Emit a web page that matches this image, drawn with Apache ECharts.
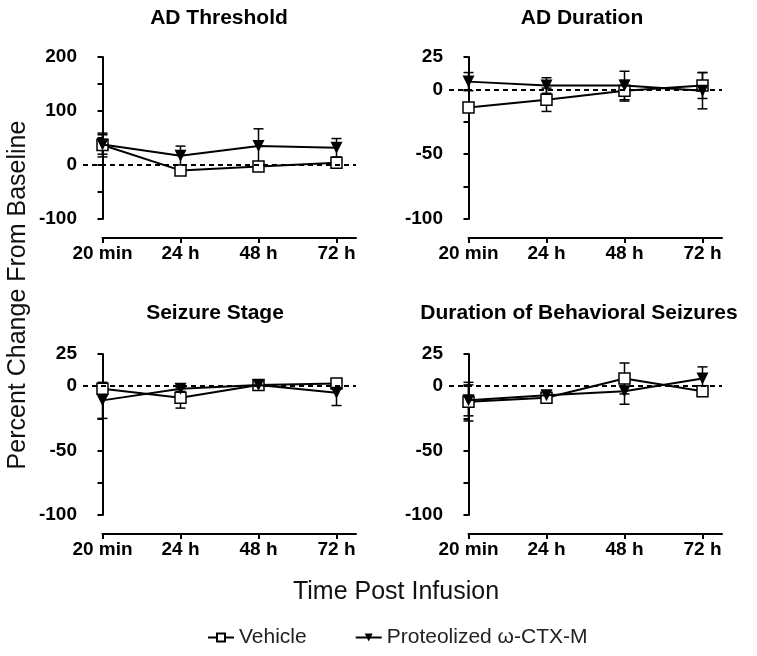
<!DOCTYPE html>
<html>
<head>
<meta charset="utf-8">
<script src="https://cdn.jsdelivr.net/npm/echarts@6/dist/echarts.min.js"></script>
<style>html,body{margin:0;padding:0;background:#fff;}#c{width:757px;height:656px;}</style>
</head>
<body>
<div id="c"></div>
<script>
// ---- data ----
const categories = ['20 min', '24 h', '48 h', '72 h'];
const panelTitles = ['AD Threshold', 'AD Duration', 'Seizure Stage', 'Duration of Behavioral Seizures'];
const seriesNames = ['Vehicle', 'Proteolized \u03c9-CTX-M'];

const vehicleADThreshold = [37, -10, -3, 4];
const vehicleADThresholdErr = [22, 4, 4, 3];
const ctxADThreshold = [38, 17, 35, 32];
const ctxADThresholdErr = [18, 18, 32, 17];

const vehicleADDuration = [-14, -8, -1, 3];
const vehicleADDurationErr = [3, 9, 8, 10];
const ctxADDuration = [6, 3, 3, -1];
const ctxADDurationErr = [7, 6, 11, 14];

const vehicleSeizureStage = [-2, -9, 1, 2];
const vehicleSeizureStageErr = [3, 8, 2, 2];
const ctxSeizureStage = [-11, -2, 1, -5];
const ctxSeizureStageErr = [14, 2, 2, 10];

const vehicleBehavioral = [-12, -9, 6, -4];
const vehicleBehavioralErr = [15, 2, 12, 3];
const ctxBehavioral = [-11, -7, -4, 6];
const ctxBehavioralErr = [12, 2, 10, 9];

const yLabelsADThreshold = [200, 100, 0, -100];
const yLabelsOther = [25, 0, -50, -100];

// ---- layout ----
const FONT = "'Liberation Sans', Arial, Helvetica, sans-serif";
const panels = [
  { title: panelTitles[0], veh: vehicleADThreshold, vehErr: vehicleADThresholdErr, ctx: ctxADThreshold, ctxErr: ctxADThresholdErr,
    yMin: -100, yMax: 200, yInt: 50, labels: yLabelsADThreshold, left: 83, top: 57, height: 162, titleX: 219, titleY: 18 },
  { title: panelTitles[1], veh: vehicleADDuration, vehErr: vehicleADDurationErr, ctx: ctxADDuration, ctxErr: ctxADDurationErr,
    yMin: -100, yMax: 25, yInt: 25, labels: yLabelsOther, left: 449, top: 57, height: 162, titleX: 582, titleY: 18 },
  { title: panelTitles[2], veh: vehicleSeizureStage, vehErr: vehicleSeizureStageErr, ctx: ctxSeizureStage, ctxErr: ctxSeizureStageErr,
    yMin: -100, yMax: 25, yInt: 25, labels: yLabelsOther, left: 83, top: 354, height: 161, titleX: 215, titleY: 313 },
  { title: panelTitles[3], veh: vehicleBehavioral, vehErr: vehicleBehavioralErr, ctx: ctxBehavioral, ctxErr: ctxBehavioralErr,
    yMin: -100, yMax: 25, yInt: 25, labels: yLabelsOther, left: 449, top: 354, height: 161, titleX: 579, titleY: 313 }
];
const PAD = 19.5;      // distance from y axis to first category
const WIDTH = 273;     // y axis to end of x axis

const grids = [], xAxes = [], yAxes = [], series = [], graphics = [];

function errorBarSeries(name, gi, vals, errs, z) {
  return {
    type: 'custom', name: name, xAxisIndex: gi, yAxisIndex: gi, z: z, silent: true,
    data: vals.map((v, i) => [i, v - errs[i], v + errs[i]]),
    renderItem: function (params, api) {
      const lo = api.coord([api.value(0), api.value(1)]);
      const hi = api.coord([api.value(0), api.value(2)]);
      const w = 5;
      const st = { stroke: '#000', lineWidth: 1.5 };
      return { type: 'group', children: [
        { type: 'line', shape: { x1: lo[0], y1: lo[1], x2: hi[0], y2: hi[1] }, style: st },
        { type: 'line', shape: { x1: lo[0] - w, y1: lo[1], x2: lo[0] + w, y2: lo[1] }, style: st },
        { type: 'line', shape: { x1: hi[0] - w, y1: hi[1], x2: hi[0] + w, y2: hi[1] }, style: st }
      ]};
    }
  };
}

panels.forEach((p, k) => {
  const gA = grids.length;
  grids.push({ left: p.left, top: p.top, width: WIDTH, height: p.height, containLabel: false });
  xAxes.push({ gridIndex: gA, type: 'value', min: -PAD / 78, max: 3.25, show: false });
  yAxes.push({
    gridIndex: gA, type: 'value', min: p.yMin, max: p.yMax, interval: p.yInt,
    axisLine: { show: true, lineStyle: { color: '#000', width: 2 } },
    axisTick: { show: true, length: 5, lineStyle: { color: '#000', width: 2 } },
    splitLine: { show: false },
    axisLabel: { margin: 6, color: '#000', fontFamily: FONT, fontWeight: 'bold', fontSize: 19,
      formatter: v => p.labels.indexOf(v) >= 0 ? String(v) : '' }
  });
  // x-axis grid (offset, GraphPad style)
  const gB = grids.length;
  grids.push({ left: p.left + PAD, top: p.top, width: WIDTH - PAD, height: p.height, containLabel: false });
  xAxes.push({
    gridIndex: gB, type: 'value', min: 0, max: 3.25, interval: 1, offset: 19,
    axisLine: { show: true, onZero: false, lineStyle: { color: '#000', width: 2 } },
    axisTick: { show: true, length: 5, lineStyle: { color: '#000', width: 2 } },
    splitLine: { show: false },
    axisLabel: { margin: 6, color: '#000', fontFamily: FONT, fontWeight: 'bold', fontSize: 19, showMaxLabel: false,
      formatter: v => (Number.isInteger(v) && categories[v] !== undefined) ? categories[v] : '' }
  });
  yAxes.push({ gridIndex: gB, type: 'value', min: p.yMin, max: p.yMax, show: false });

  series.push(errorBarSeries(seriesNames[0] + ' err', gA, p.veh, p.vehErr, 2));
  series.push(errorBarSeries(seriesNames[1] + ' err', gA, p.ctx, p.ctxErr, 2));
  series.push({
    type: 'line', name: seriesNames[0], xAxisIndex: gA, yAxisIndex: gA, z: 3,
    data: p.veh.map((v, i) => [i, v]),
    symbol: 'rect', symbolSize: 11,
    lineStyle: { color: '#000', width: 2 },
    itemStyle: { color: '#fff', borderColor: '#000', borderWidth: 1.5 },
    markLine: { silent: true, symbol: 'none', label: { show: false },
      lineStyle: { color: '#000', width: 2, type: [5, 4] },
      data: [{ yAxis: 0 }] }
  });
  series.push({
    type: 'line', name: seriesNames[1], xAxisIndex: gA, yAxisIndex: gA, z: 4,
    data: p.ctx.map((v, i) => [i, v]),
    symbol: 'triangle', symbolRotate: 180, symbolSize: 12,
    lineStyle: { color: '#000', width: 2 },
    itemStyle: { color: '#000', borderColor: '#000', borderWidth: 0 }
  });
  graphics.push({ type: 'text', x: p.titleX, y: p.titleY,
    style: { text: p.title, textAlign: 'center', textVerticalAlign: 'middle', fill: '#000',
      font: 'bold 21px ' + FONT } });
});

graphics.push({ type: 'text', x: 18, y: 295, rotation: Math.PI / 2,
  style: { text: 'Percent Change From Baseline', textAlign: 'center', textVerticalAlign: 'middle', fill: '#111',
    font: '25px ' + FONT } });
graphics.push({ type: 'text', x: 396, y: 592,
  style: { text: 'Time Post Infusion', textAlign: 'center', textVerticalAlign: 'middle', fill: '#111',
    font: '25px ' + FONT } });

const chart = echarts.init(document.getElementById('c'), null, { renderer: 'canvas' });
chart.setOption({
  animation: false,
  backgroundColor: '#fff',
  grid: grids, xAxis: xAxes, yAxis: yAxes, series: series, graphic: graphics,
  legend: {
    data: seriesNames, left: 202, top: 622, itemWidth: 26, itemHeight: 10, itemGap: 48,
    textStyle: { fontFamily: FONT, fontSize: 21, color: '#222' }
  }
});
</script>
</body>
</html>
